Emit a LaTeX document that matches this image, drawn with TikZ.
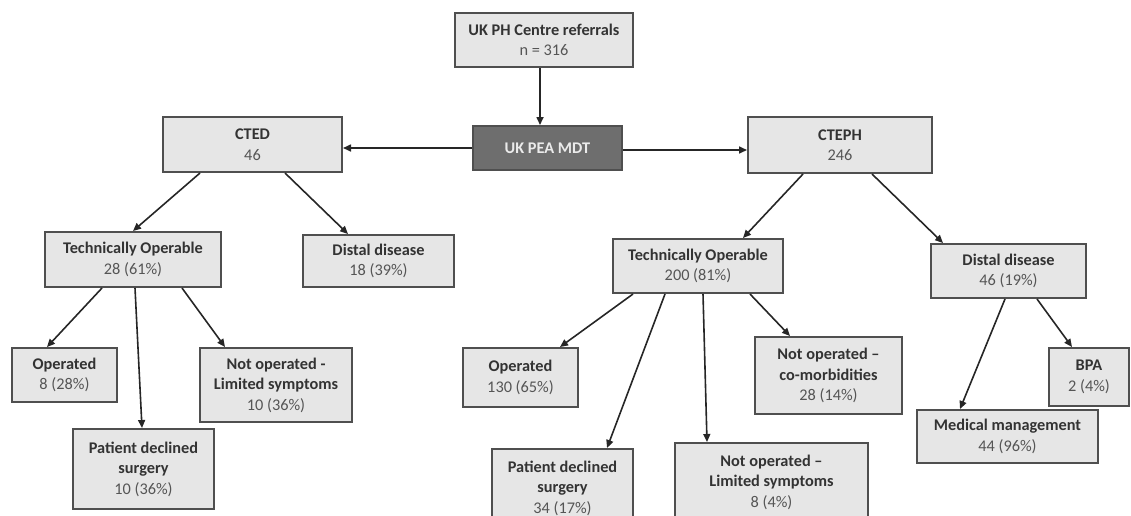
\documentclass[tikz,border=0pt]{standalone}
\usepackage{fontspec}
\setmainfont{Carlito}
\usetikzlibrary{arrows.meta}
\definecolor{boxfill}{HTML}{E6E6E6}
\definecolor{boxline}{HTML}{4F4F4F}
\definecolor{darkfill}{HTML}{6E6E6E}
\definecolor{titletext}{HTML}{333333}
\definecolor{numtext}{HTML}{555555}
\tikzset{
  box/.style={draw=boxline, line width=2pt, fill=boxfill, inner sep=0pt, align=center,
    font=\fontsize{16.3}{20.5}\selectfont, text=numtext},
  darkbox/.style={box, fill=darkfill, text=white!92!black},
  conn/.style={draw=black!85, line width=1.6pt, -{Triangle[length=8pt,width=7pt]}},
}
\newcommand{\ttl}[1]{\textbf{\color{titletext}#1}}
\begin{document}
\begin{tikzpicture}[x=1pt,y=-1pt]
\useasboundingbox (0,0) rectangle (1131,515);
\node[box, minimum width=178pt, minimum height=54pt] (top) at (544,40) {\ttl{UK PH Centre referrals}\\n = 316};
\node[darkbox, minimum width=149pt, minimum height=44pt] (mdt) at (547.5,148) {\textbf{UK PEA MDT}};
\node[box, minimum width=179pt, minimum height=55pt] (cted) at (252.5,144.5) {\ttl{CTED}\\46};
\node[box, minimum width=184pt, minimum height=56pt] (cteph) at (840,145) {\ttl{CTEPH}\\246};
\node[box, minimum width=176pt, minimum height=55pt] (to1) at (133,259.5) {\ttl{Technically Operable}\\28 (61\%)};
\node[box, minimum width=151pt, minimum height=52pt] (dd1) at (378.5,261) {\ttl{Distal disease}\\18 (39\%)};
\node[box, minimum width=105pt, minimum height=54pt] (op1) at (64.5,375) {\ttl{Operated}\\8 (28\%)};
\node[box, minimum width=152pt, minimum height=74pt] (nl1) at (276,385) {\ttl{Not operated -}\\\ttl{Limited symptoms}\\10 (36\%)};
\node[box, minimum width=141pt, minimum height=80pt] (pd1) at (143.5,469) {\ttl{Patient declined}\\\ttl{surgery}\\10 (36\%)};
\node[box, minimum width=170pt, minimum height=54pt] (to2) at (698,266) {\ttl{Technically Operable}\\200 (81\%)};
\node[box, minimum width=155pt, minimum height=54pt] (dd2) at (1008.5,271) {\ttl{Distal disease}\\46 (19\%)};
\node[box, minimum width=115pt, minimum height=59pt] (op2) at (520.5,377.5) {\ttl{Operated}\\130 (65\%)};
\node[box, minimum width=147pt, minimum height=77pt] (nc2) at (828.5,375.5) {\ttl{Not operated --}\\\ttl{co-morbidities}\\28 (14\%)};
\node[box, minimum width=141pt, minimum height=78pt] (pd2) at (562.5,488) {\ttl{Patient declined}\\\ttl{surgery}\\34 (17\%)};
\node[box, minimum width=193pt, minimum height=78pt] (nl2) at (771.5,482) {\ttl{Not operated --}\\\ttl{Limited symptoms}\\8 (4\%)};
\node[box, minimum width=80pt, minimum height=58pt] (bpa) at (1089,377) {\ttl{BPA}\\2 (4\%)};
\node[box, minimum width=181pt, minimum height=53pt] (mm) at (1007.5,436.5) {\ttl{Medical management}\\44 (96\%)};

\draw[conn] ([xshift=-4pt]top.south) -- ([xshift=-7.5pt]mdt.north);
\draw[conn] (mdt.west) -- (mdt.west -| cted.east);
\draw[conn] ([yshift=-2pt]mdt.east) -- ([yshift=-2pt]mdt.east -| cteph.west);
\draw[conn] ([xshift=-52.5pt]cted.south) -- (to1.north);
\draw[conn] ([xshift=32.5pt]cted.south) -- ([xshift=-30.5pt]dd1.north);
\draw[conn] ([xshift=-31pt]to1.south) -- ([xshift=-17.5pt]op1.north);
\draw[conn] ([xshift=2pt]to1.south) -- ([xshift=-1.5pt]pd1.north);
\draw[conn] ([xshift=49pt]to1.south) -- ([xshift=-51pt]nl1.north);
\draw[conn] ([xshift=-37pt]cteph.south) -- ([xshift=45pt]to2.north);
\draw[conn] ([xshift=32pt]cteph.south) -- ([xshift=-65.5pt]dd2.north);
\draw[conn] ([xshift=-65pt]to2.south) -- ([xshift=39.5pt]op2.north);
\draw[conn] ([xshift=-33pt]to2.south) -- ([xshift=44.5pt]pd2.north);
\draw[conn] ([xshift=5pt]to2.south) -- ([xshift=-64.5pt]nl2.north);
\draw[conn] ([xshift=52pt]to2.south) -- ([xshift=-38.5pt]nc2.north);
\draw[conn] ([xshift=-3.5pt]dd2.south) -- ([xshift=-47.5pt]mm.north);
\draw[conn] ([xshift=28.5pt]dd2.south) -- ([xshift=-17pt]bpa.north);
\end{tikzpicture}
\end{document}
